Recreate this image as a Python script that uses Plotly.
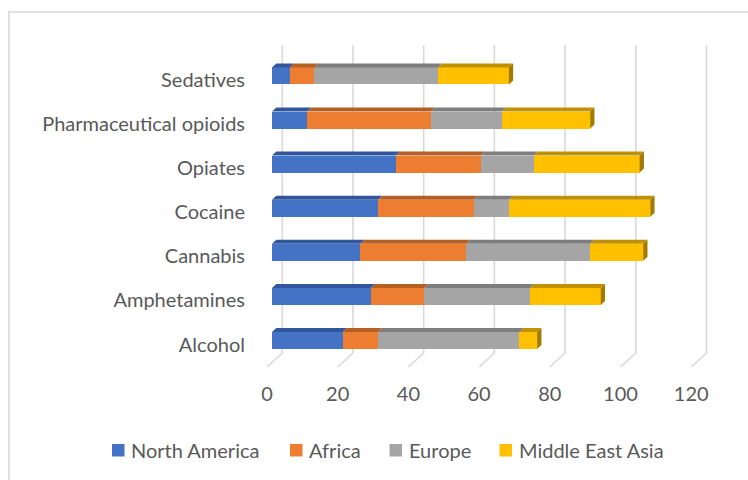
import plotly.graph_objects as go

# ---- data -------------------------------------------------------------
categories = ["Alcohol", "Amphetamines", "Cannabis", "Cocaine",
              "Opiates", "Pharmaceutical opioids", "Sedatives"]
north_america = [20, 28, 25, 30, 35, 10, 5]
africa = [10, 15, 30, 27, 24, 35, 7]
europe = [40, 30, 35, 10, 15, 20, 35]
middle_east_asia = [5, 20, 15, 40, 30, 25, 20]
series_names = ["North America", "Africa", "Europe", "Middle East Asia"]
x_ticks = [0, 20, 40, 60, 80, 100, 120]

series_values = [north_america, africa, europe, middle_east_asia]
front_colors = ["#4472C4", "#ED7D31", "#A5A5A5", "#FFC000"]
top_colors = ["#30569C", "#B65F22", "#7E7E7E", "#C29100"]
side_color = "#A27A00"

# ---- geometry of the pseudo-3D frame ------------------------------------
W, H = 748, 480
L, R, T, B = 250, 720, 30, 380          # plot area in pixels
PX_PER_UNIT = 3.535                      # horizontal scale
ZERO_PX = 272                            # pixel of value 0 on the bar fronts
ROW_PX = 44.1                            # spacing between categories
FIRST_ROW_PX = 340.5                     # pixel of the first category

xmin = (L - ZERO_PX) / PX_PER_UNIT
xmax = xmin + (R - L) / PX_PER_UNIT
ymin = -(B - FIRST_ROW_PX) / ROW_PX
ymax = ymin + (B - T) / ROW_PX

bar_w = 17 / ROW_PX                      # bar thickness (category units)
depth_x = 4.3 / PX_PER_UNIT              # depth of each bar
depth_y = 4.0 / ROW_PX
back_dx = 10.3 / PX_PER_UNIT             # back wall offset
front_dx = -5.0 / PX_PER_UNIT            # floor front edge offset
wall_top = ymin + (B - 45) / ROW_PX
floor_back = ymin + (B - 353) / ROW_PX
floor_front = ymin + (B - 367) / ROW_PX
label_drop = 4.0 / ROW_PX                # category labels sit a little low

TEXT = "#595959"
FONT = "Lato"
FS = 20

fig = go.Figure()
idx = list(range(len(categories)))

# front faces
for name, vals, col in zip(series_names, series_values, front_colors):
    fig.add_trace(go.Bar(
        y=idx, x=vals, name=name, orientation="h", width=bar_w,
        marker=dict(color=col, line=dict(width=0)), showlegend=False,
        hoverinfo="x+name"))

# top faces and the end face of each stack
starts = [0] * len(categories)
for s, (vals, tcol) in enumerate(zip(series_values, top_colors)):
    xs, ys = [], []
    for i, v in enumerate(vals):
        a, b = starts[i], starts[i] + v
        yt = i + bar_w / 2
        xs += [a, b, b + depth_x, a + depth_x, a, None]
        ys += [yt, yt, yt + depth_y, yt + depth_y, yt, None]
        starts[i] = b
    fig.add_trace(go.Scatter(x=xs, y=ys, mode="lines", fill="toself",
                             fillcolor=tcol, line=dict(width=0),
                             hoverinfo="skip", showlegend=False))

sx, sy = [], []
for i, total in enumerate(starts):
    yb, yt = i - bar_w / 2, i + bar_w / 2
    sx += [total, total + depth_x, total + depth_x, total, total, None]
    sy += [yb, yb + depth_y, yt + depth_y, yt, yb, None]
fig.add_trace(go.Scatter(x=sx, y=sy, mode="lines", fill="toself",
                         fillcolor=side_color, line=dict(width=0),
                         hoverinfo="skip", showlegend=False))

# gridlines on the back wall and floor
shapes = []
for v in x_ticks:
    path = (f"M{v + back_dx},{wall_top} L{v + back_dx},{floor_back} "
            f"L{v + front_dx},{floor_front}")
    shapes.append(dict(type="path", path=path, xref="x", yref="y",
                       line=dict(color="#D9D9D9", width=1.6), layer="below"))


def px_to_paper_x(px):
    return (px - L) / (R - L)


def px_to_paper_y(py):
    return (B - py) / (B - T)


# outer chart frame
shapes.append(dict(type="rect", xref="paper", yref="paper",
                   x0=px_to_paper_x(9), x1=px_to_paper_x(800),
                   y0=px_to_paper_y(520), y1=px_to_paper_y(12),
                   line=dict(color="#D9D9D9", width=1.6), layer="below"))

# legend
legend_px = [112, 290, 389.5, 499.5]
annotations = []
for name, col, lx in zip(series_names, front_colors, legend_px):
    shapes.append(dict(type="rect", xref="paper", yref="paper",
                       x0=px_to_paper_x(lx), x1=px_to_paper_x(lx + 12.5),
                       y0=px_to_paper_y(456.5), y1=px_to_paper_y(444),
                       fillcolor=col, line=dict(width=0)))
    annotations.append(dict(text=name, xref="paper", yref="paper",
                            x=px_to_paper_x(lx + 17), y=px_to_paper_y(450),
                            xanchor="left", yanchor="middle", showarrow=False,
                            font=dict(family=FONT, size=FS, color=TEXT)))

fig.update_layout(
    width=W, height=H, autosize=False,
    margin=dict(l=L, r=W - R, t=T, b=H - B),
    barmode="stack", bargap=0,
    plot_bgcolor="white", paper_bgcolor="white",
    showlegend=False,
    shapes=shapes, annotations=annotations,
    font=dict(family=FONT, size=FS, color=TEXT),
    xaxis=dict(range=[xmin, xmax], showgrid=False, zeroline=False,
               showline=False, ticks="",
               tickvals=[v + front_dx for v in x_ticks],
               ticktext=[str(v) for v in x_ticks],
               tickfont=dict(family=FONT, size=FS, color=TEXT)),
    yaxis=dict(range=[ymin, ymax], showgrid=False, zeroline=False,
               showline=False, ticks="", ticklabelstandoff=4,
               tickvals=[i - label_drop for i in idx], ticktext=categories,
               tickfont=dict(family=FONT, size=FS, color=TEXT)),
)

fig.write_html("out.html")
